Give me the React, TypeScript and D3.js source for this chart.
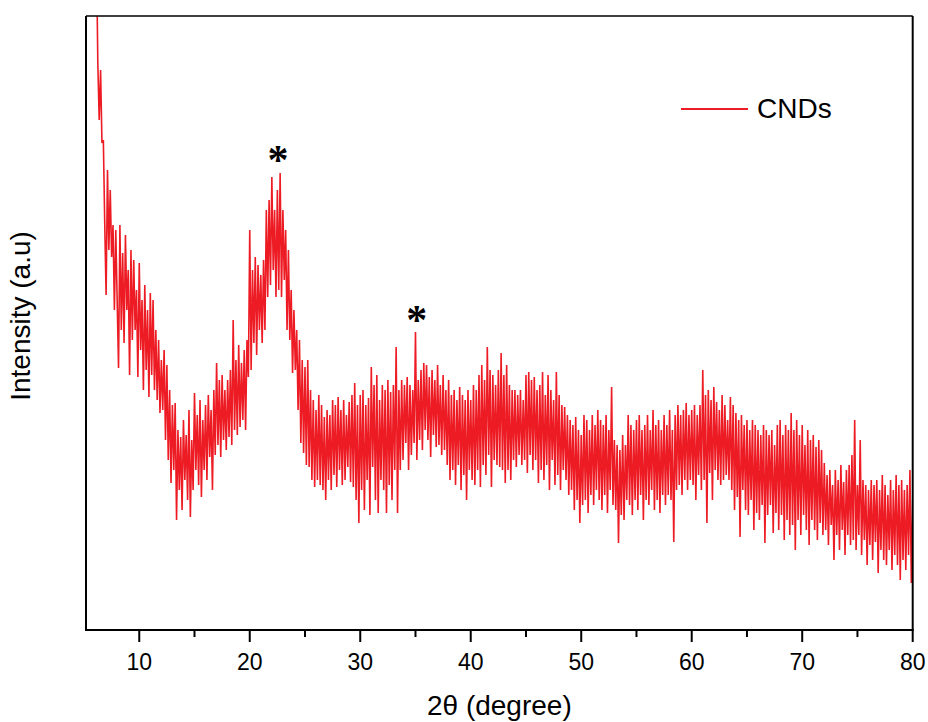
import React from "react";
import * as d3 from "d3";

// XRD scan of CNDs: evenly spaced 2θ grid
const scanStart = 6.125;
const scanStep = 0.125;

const intensity06to20 = [
  680, 567, 510, 560, 487, 490, 407, 335,
  460, 380, 440, 373, 405, 320, 400, 330,
  262, 405, 300, 377, 287, 395, 320, 360,
  255, 380, 290, 370, 300, 340, 253, 367,
  280, 330, 240, 345, 260, 320, 233, 337,
  255, 330, 240, 300, 230, 290, 217, 270,
  220, 280, 190, 265, 170, 240, 147, 225,
  160, 227, 110, 200, 140, 193, 120, 210,
  150, 195, 130, 220, 113, 190, 140, 237,
  160, 215, 145, 230, 133, 210, 160, 225,
  150, 235, 173, 220, 140, 240, 175, 267,
  185, 250, 173, 255, 190, 240, 180, 250,
  193, 260, 185, 310, 200, 270, 195, 285,
  203, 267, 210, 280, 200, 290, 253, 400,
];
const intensity20to35 = [
  260, 360, 287, 373, 275, 365, 300, 355,
  287, 370, 300, 420, 333, 430, 345, 453,
  360, 420, 333, 440, 340, 457, 333, 420,
  350, 400, 300, 380, 290, 340, 257, 320,
  260, 300, 220, 290, 187, 270, 177, 263,
  165, 270, 163, 240, 150, 230, 143, 220,
  150, 235, 145, 225, 140, 213, 130, 220,
  150, 215, 140, 230, 155, 225, 143, 233,
  160, 220, 145, 230, 150, 215, 163, 228,
  148, 235, 143, 247, 130, 225, 107, 235,
  140, 240, 120, 225, 150, 232, 115, 263,
  163, 245, 130, 255, 117, 230, 150, 245,
  140, 240, 117, 250, 145, 238, 130, 245,
  160, 283, 117, 240, 160, 250, 170, 245,
  187, 253, 160, 245, 175, 240, 187, 298,
];
const intensity35to50 = [
  170, 250, 190, 260, 180, 267, 200, 265,
  190, 253, 173, 260, 195, 250, 183, 265,
  185, 245, 175, 255, 180, 240, 165, 250,
  150, 235, 160, 240, 145, 230, 165, 243,
  140, 235, 155, 230, 130, 240, 160, 230,
  150, 245, 145, 240, 160, 255, 143, 265,
  165, 250, 155, 283, 175, 260, 143, 255,
  170, 245, 165, 260, 163, 277, 160, 255,
  147, 265, 160, 245, 150, 240, 170, 240,
  163, 235, 175, 240, 165, 230, 170, 255,
  157, 258, 175, 250, 160, 253, 170, 240,
  147, 245, 160, 258, 150, 235, 165, 255,
  140, 240, 170, 230, 145, 258, 155, 235,
  140, 225, 160, 223, 150, 215, 135, 210,
  140, 205, 120, 213, 130, 200, 107, 195,
];
const intensity50to65 = [
  125, 215, 130, 210, 117, 200, 135, 215,
  125, 205, 140, 220, 130, 210, 120, 205,
  135, 215, 117, 200, 140, 243, 125, 190,
  120, 185, 87, 180, 115, 195, 110, 185,
  130, 215, 125, 205, 115, 200, 130, 210,
  120, 215, 135, 200, 110, 205, 130, 215,
  125, 200, 140, 220, 120, 205, 130, 210,
  117, 200, 135, 215, 125, 205, 135, 220,
  130, 200, 88, 215, 140, 225, 145, 215,
  135, 220, 150, 227, 140, 215, 150, 220,
  145, 225, 130, 215, 155, 225, 140, 260,
  150, 235, 107, 240, 157, 230, 130, 243,
  160, 228, 150, 220, 145, 235, 150, 225,
  155, 210, 150, 233, 140, 225, 120, 217,
  133, 210, 93, 215, 140, 205, 120, 210,
];
const intensity65to80 = [
  115, 200, 130, 210, 100, 205, 117, 200,
  110, 195, 125, 205, 87, 200, 115, 195,
  125, 200, 97, 185, 117, 205, 100, 210,
  115, 195, 90, 205, 110, 200, 95, 217,
  105, 200, 80, 210, 110, 195, 95, 205,
  115, 185, 100, 200, 85, 190, 110, 195,
  100, 183, 90, 190, 107, 180, 95, 167,
  100, 155, 85, 160, 105, 145, 70, 160,
  95, 150, 80, 165, 100, 148, 75, 160,
  95, 165, 85, 175, 90, 210, 80, 145,
  95, 190, 75, 150, 90, 145, 65, 140,
  85, 150, 70, 145, 88, 150, 57, 140,
  80, 155, 70, 145, 65, 135, 80, 150,
  60, 140, 75, 155, 65, 145, 50, 150,
  70, 140, 60, 145, 75, 160, 47, 130,
];

const majorTicks = [10, 20, 30, 40, 50, 60, 70, 80];
const minorTicks = [15, 25, 35, 45, 55, 65, 75];
const peakMarks = [
  { pos: 22.55, level: 478 },
  { pos: 35.12, level: 318 },
];
const seriesName = "CNDs";
const xTitle = "2θ (degree)";
const yTitle = "Intensity (a.u)";

const W = 928;
const H = 722;
const M = { left: 86, right: 912.7, top: 16, bottom: 630 };
const RED = "#ED1C24";
const FONT = "'Liberation Sans', Arial, sans-serif";

export default function App() {
  const values = [
    ...intensity06to20,
    ...intensity20to35,
    ...intensity35to50,
    ...intensity50to65,
    ...intensity65to80,
  ];
  const data = values.map((v, i) => ({ t: scanStart + i * scanStep, v }));

  const x = d3.scaleLinear().domain([5.18, 80]).range([M.left, M.right]);
  const y = d3.scaleLinear().domain([0, 614]).range([M.bottom, M.top]);

  const line = d3
    .line<{ t: number; v: number }>()
    .x((d) => x(d.t))
    .y((d) => y(d.v));

  return (
    <svg
      width={W}
      height={H}
      style={{ position: "absolute", left: 0, top: 0, background: "#fff" }}
    >
      <defs>
        <clipPath id="plotClip">
          <rect x={M.left} y={M.top} width={M.right - M.left} height={M.bottom - M.top} />
        </clipPath>
      </defs>
      <rect width={W} height={H} fill="#fff" />
      <path
        d={line(data) || ""}
        fill="none"
        stroke={RED}
        strokeWidth={1.6}
        strokeLinejoin="bevel"
        clipPath="url(#plotClip)"
      />
      {/* frame */}
      <line x1={M.left} x2={M.right} y1={M.top} y2={M.top} stroke="#000" strokeWidth={1.5} />
      <line x1={M.right} x2={M.right} y1={M.top} y2={M.bottom} stroke="#000" strokeWidth={2} />
      <line x1={M.left} x2={M.left} y1={M.top} y2={M.bottom + 1} stroke="#000" strokeWidth={2} />
      <line x1={M.left - 1} x2={M.right + 1} y1={M.bottom} y2={M.bottom} stroke="#000" strokeWidth={2} />
      {majorTicks.map((t) => (
        <g key={"M" + t}>
          <line x1={x(t)} x2={x(t)} y1={M.bottom} y2={M.bottom + 12} stroke="#000" strokeWidth={2} />
          <text
            x={x(t)}
            y={669.5}
            textAnchor="middle"
            fontFamily={FONT}
            fontSize={23}
            fill="#000"
          >
            {t}
          </text>
        </g>
      ))}
      {minorTicks.map((t) => (
        <line key={"m" + t} x1={x(t)} x2={x(t)} y1={M.bottom} y2={M.bottom + 7} stroke="#000" strokeWidth={2} />
      ))}
      <text
        x={(M.left + M.right) / 2}
        y={715}
        textAnchor="middle"
        fontFamily={FONT}
        fontSize={28}
        fill="#000"
      >
        {xTitle}
      </text>
      <text
        transform={`translate(30, 316) rotate(-90)`}
        textAnchor="middle"
        fontFamily={FONT}
        fontSize={28}
        fill="#000"
      >
        {yTitle}
      </text>
      {peakMarks.map((p, i) => (
        <text
          key={i}
          x={x(p.pos)}
          y={y(p.level) + 22}
          textAnchor="middle"
          fontFamily="'Liberation Serif', 'Times New Roman', serif"
          fontWeight="bold"
          fontSize={42}
          fill="#000"
        >
          *
        </text>
      ))}
      {/* legend */}
      <line x1={681} x2={748} y1={109} y2={109} stroke={RED} strokeWidth={1.8} />
      <text x={757} y={117.5} fontFamily={FONT} fontSize={28} fill="#000">
        {seriesName}
      </text>
    </svg>
  );
}
